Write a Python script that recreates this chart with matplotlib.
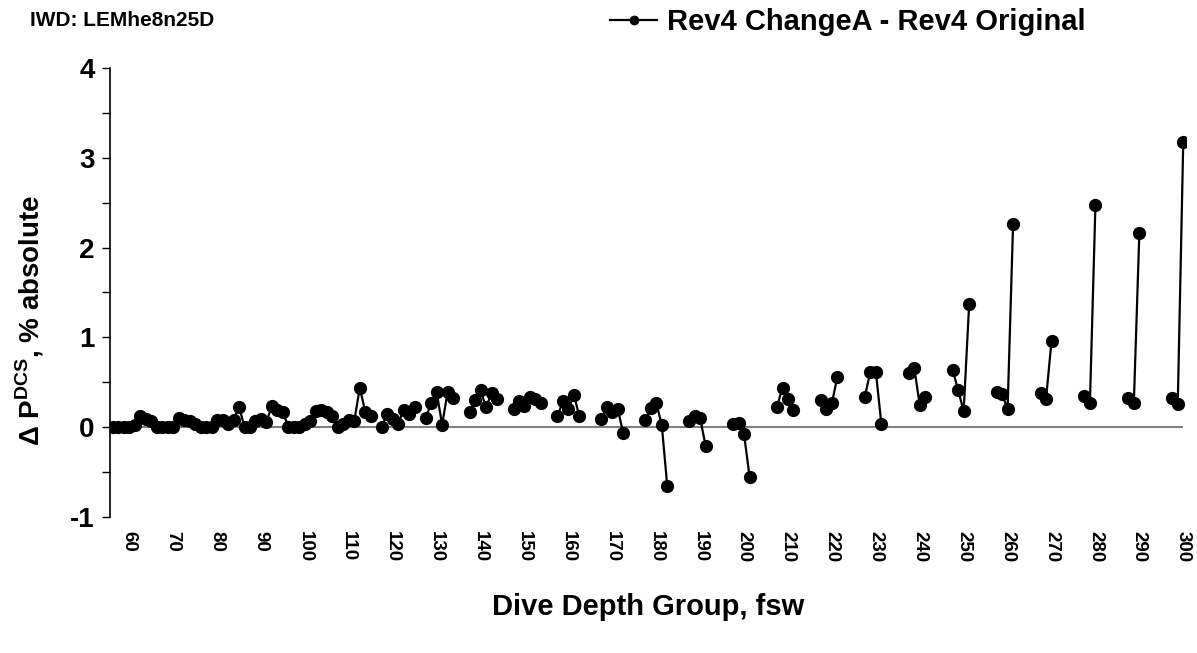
import numpy as np
import matplotlib.pyplot as plt
from matplotlib.lines import Line2D

plt.rcParams['font.family'] = ['Liberation Sans', 'DejaVu Sans']
plt.rcParams['font.weight'] = 'bold'
plt.rcParams['axes.unicode_minus'] = False
plt.rcParams['mathtext.fontset'] = 'custom'
plt.rcParams['mathtext.rm'] = 'Liberation Sans'
plt.rcParams['mathtext.bf'] = 'Liberation Sans:bold'

depths = list(range(60, 301, 10))
slots = 8  # bottom-time slots per depth group on the category axis

lead = [0.00]  # first category, before the 60 fsw group
# delta PDCS per bottom time, one list per depth group (None = no profile)
group_values = [
    [0.00, 0.00, 0.00, 0.02, 0.13, 0.09, 0.07, 0.00],   # 60
    [0.00, 0.00, 0.00, 0.10, 0.08, 0.07, 0.04, 0.00],   # 70
    [0.00, 0.00, 0.08, 0.08, 0.04, 0.08, 0.23, 0.00],   # 80
    [0.00, 0.07, 0.09, 0.06, 0.24, 0.19, 0.17, 0.00],   # 90
    [0.00, 0.00, 0.04, 0.07, 0.18, 0.19, 0.17, 0.13],   # 100
    [0.00, 0.04, 0.08, 0.07, 0.44, 0.17, 0.13],         # 110
    [0.00, 0.15, 0.09, 0.04, 0.19, 0.15, 0.23],         # 120
    [0.10, 0.27, 0.39, 0.03, 0.39, 0.33],               # 130
    [0.17, 0.30, 0.41, 0.22, 0.38, 0.31],               # 140
    [0.20, 0.29, 0.24, 0.34, 0.31, 0.27],               # 150
    [0.12, 0.29, 0.20, 0.36, 0.12],                     # 160
    [0.09, 0.23, 0.17, 0.20, -0.07],                    # 170
    [0.085, 0.21, 0.27, 0.03, -0.65],                   # 180
    [0.07, 0.13, 0.10, -0.21],                          # 190
    [0.04, 0.05, -0.08, -0.55],                         # 200
    [0.23, 0.44, 0.31, 0.19],                           # 210
    [0.30, 0.20, 0.27, 0.56],                           # 220
    [0.34, 0.62, 0.62, 0.04],                           # 230
    [0.60, 0.66, 0.25, 0.34],                           # 240
    [0.64, 0.41, 0.18, 1.37],                           # 250
    [0.39, 0.37, 0.20, 2.26],                           # 260
    [0.38, 0.31, 0.96],                                 # 270
    [0.35, 0.27, 2.47],                                 # 280
    [0.33, 0.27, 2.16],                                 # 290
    [0.33, 0.26, 3.18],                                 # 300
]

# flatten onto the category axis, blanks break the line
n_cat = len(lead) + slots * (len(depths) - 1) + len(group_values[-1])
y = np.full(n_cat, np.nan)
y[:len(lead)] = lead
for k, vals in enumerate(group_values):
    start = len(lead) + slots * k
    for j, v in enumerate(vals):
        if v is not None:
            y[start + j] = v
x = np.arange(n_cat)

fig = plt.figure(figsize=(11.97, 6.53), dpi=100)
ax = fig.add_axes([110 / 1197, 1 - 517 / 653, 1076 / 1197, 449 / 653])

ax.hlines(0, -0.5, x[-1], color='#808080', lw=1.5, zorder=1)
ax.plot(x, y, color='black', lw=1.6, marker='o', ms=8.5, zorder=3)

ax.set_xlim(-0.5, n_cat - 0.5)
ax.set_ylim(-1, 4)

tick_pos = [len(lead) + slots * k + 2 for k in range(len(depths))]
ax.set_xticks(tick_pos)
ax.set_xticklabels([str(d) for d in depths], rotation=270, fontsize=13.5,
                   fontweight='bold')
ax.tick_params(axis='x', length=0, pad=10)

ax.set_yticks(range(-1, 5))
ax.set_yticks(np.arange(-0.5, 4, 1), minor=True)
ax.tick_params(axis='y', which='both', direction='out', length=6, width=1,
               labelsize=20, pad=5)
for lab in ax.get_yticklabels():
    lab.set_fontweight('bold')

for side in ['top', 'right', 'bottom']:
    ax.spines[side].set_visible(False)
ax.spines['left'].set_linewidth(1.2)

fig.text(30 / 1197, 1 - 320 / 653,
         r'$\mathrm{\Delta}$ P$^{\mathregular{DCS}}$, % absolute',
         fontsize=20, fontweight='bold', rotation=90, ha='center', va='center')
fig.text(648 / 1197, 1 - 607 / 653, 'Dive Depth Group, fsw', fontsize=21,
         fontweight='bold', ha='center', va='center')
fig.text(30 / 1197, 1 - 20 / 653, 'IWD: LEMhe8n25D', fontsize=15,
         fontweight='bold', ha='left', va='center')

handle = Line2D([], [], color='black', lw=1.6, marker='o', ms=6)
fig.legend([handle], ['Rev4 ChangeA - Rev4 Original'], loc='center left',
           bbox_to_anchor=(584 / 1197, 1 - 22 / 653), frameon=False,
           handlelength=1.6, handletextpad=0.35,
           prop={'weight': 'bold', 'size': 21})

fig.savefig('out.png', dpi=100)
